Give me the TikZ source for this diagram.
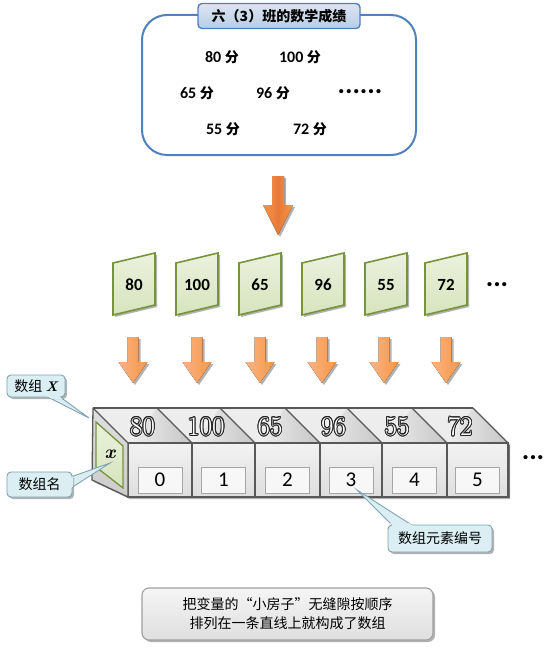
\documentclass[tikz,border=0pt]{standalone}
\usepackage{fontspec}
\setmainfont{Carlito}
\newfontfamily\cjk{Noto Sans CJK SC}
\newfontfamily\lmr{Latin Modern Roman}
\usepackage[copies]{contour}
\contourlength{0.9pt}
\usetikzlibrary{shadows,calc}
\definecolor{bluel}{HTML}{4F81BD}
\definecolor{tabtop}{HTML}{DCE6F2}
\definecolor{tabbot}{HTML}{B9CDE5}
\definecolor{orA}{HTML}{F79646}
\definecolor{orB}{HTML}{E6793A}
\definecolor{orL}{HTML}{FAB384}
\definecolor{grnF}{HTML}{EBF1DE}
\definecolor{grnG}{HTML}{D7E4BD}
\definecolor{grnL}{HTML}{77933C}
\definecolor{calfill}{HTML}{DAEEF3}
\definecolor{calline}{HTML}{7FA3AD}
\definecolor{edge}{HTML}{585858}
\tikzset{
  shad/.style={drop shadow={shadow xshift=2pt,shadow yshift=-2pt,opacity=.3,fill=black}},
  cardbox/.style={draw=grnL,line width=1.6pt,top color=grnF,bottom color=grnG,shad},
  bigarrow/.style={left color=orA,right color=orA,middle color=orB,shad},
  smallarrow/.style={left color=orL,right color=orA,shad},
  callout/.style={draw=calline,line width=0.9pt,fill=calfill,rounded corners=4pt,
     inner sep=2pt,font=\cjk\fontsize{14}{16}\selectfont},
  idxbox/.style={draw=gray!70,line width=0.8pt,fill=gray!6,minimum width=44pt,minimum height=26pt,
     inner sep=0pt,font=\fontsize{21}{22}\selectfont},
  score/.style={font=\bfseries\fontsize{16}{16}\selectfont,inner sep=0pt},
  cardtxt/.style={font=\bfseries\fontsize{17}{18}\selectfont,inner sep=0pt},
  topnum/.style={font=\lmr\fontsize{27}{28}\selectfont,inner sep=0pt},
  dots/.style={font=\bfseries\fontsize{28}{28}\selectfont,inner sep=0pt}
}
\newcommand{\fen}{{\cjk\bfseries\fontsize{14}{16}\selectfont 分}}
\begin{document}
\begin{tikzpicture}[x=1pt,y=-1pt]
\useasboundingbox (0,0) rectangle (550,650);
% ---------- top box ----------
\node[draw=bluel,line width=2pt,rounded corners=25pt,fill=white,minimum width=274pt,minimum height=140pt] (scores) at (279,85) {};
\node[draw=bluel,line width=1.4pt,rounded corners=4pt,top color=tabtop,bottom color=tabbot,
  minimum width=162pt,minimum height=25pt,inner sep=0pt,font=\cjk\bfseries\fontsize{14}{16}\selectfont] (title) at (279,16) {六（3）班的数学成绩};
\node[score] (s80) at (222,57) {80 \fen};
\node[score] (s100) at (300,57) {100 \fen};
\node[score] (s65) at (197,93) {65 \fen};
\node[score] (s96) at (273,93) {96 \fen};
\node[dots] (sdots) at (360,92) {......};
\node[score] (s55) at (223,129) {55 \fen};
\node[score] (s72) at (310,129) {72 \fen};
% ---------- big arrow ----------
\fill[bigarrow] (272,176)--(284,176)--(284,205)--(293,205)--(278,235)--(263,205)--(272,205)--cycle;
% ---------- cards ----------
\foreach \L/\v [count=\i] in {113/80,176/100,239/65,302/96,365/55,425/72}{
  \path[cardbox] (\L,263)--(\L+42,253)--(\L+42,305)--(\L,315)--cycle;
  \node[cardtxt] (card\i) at (\L+21,285) {\v};
}
\node[dots] (cdots) at (497,285) {...};
% ---------- small arrows ----------
\foreach \c in {133,197,260,322,384,446}{
  \fill[smallarrow] (\c-5.5,337)--(\c+5.5,337)--(\c+5.5,362)--(\c+14.5,362)--(\c,383)--(\c-14.5,362)--(\c-5.5,362)--cycle;
}
% ---------- 3D array ----------
\fill[gray!20,shad] (93,408)--(473,408)--(508,443)--(508,497)--(128,497)--(92,480)--cycle;
\fill[gray!14] (93,408)--(473,408)--(508,443)--(128,443)--cycle;
\foreach \fa/\fb in {128/192,192/255,255/320,320/382,382/447,447/508}{
  \shade[left color=gray!14,right color=gray!45] (\fb-35-25,443)--(\fb-35,408)--(\fb,443)--cycle;
}
\foreach \fb in {192,255,320,382,447,508}{
  \draw[edge,line width=1.1pt] (\fb-35,408)--(\fb,443);
}
\draw[edge,line width=1.2pt] (93,408)--(473,408);
\foreach \fa/\fb/\k/\v in {128/192/0/80,192/255/1/100,255/320/2/65,320/382/3/96,382/447/4/55,447/508/5/72}{
  \shade[top color=gray!10,bottom color=gray!26] (\fa,443) rectangle (\fb,497);
  \draw[edge,line width=1.3pt] (\fa,443) rectangle (\fb,497);
  \draw[black!55,line width=1.2pt] (\fb+1.3,445)--(\fb+1.3,498);
  \node[idxbox] (idx\k) at ({(\fa+\fb)/2},480) {\k};
  \node[topnum] (top\k) at ({(\fa+\fb-35)/2},427) {\contour{black!85}{\textcolor{white}{\v}}};
}
% end face
\shade[top color=gray!25,bottom color=gray!40,draw=edge,line width=1.3pt,line join=round]
  (93,408)--(128,443)--(128,497)--(92,480)--cycle;
\shade[top color=grnF,bottom color=grnG,draw=grnL,line width=1.3pt]
  (96,422)--(123,446)--(123,488)--(96,467)--cycle;
\node[font=\lmr\bfseries\itshape\fontsize{19}{20}\selectfont,inner sep=0pt] (xname) at (110,454) {x};
\node[dots] (adots) at (533,458) {...};
% ---------- callouts ----------
\coordinate (tipX) at (89,418);
\coordinate (tipN) at (110,463);
\coordinate (tipE) at (357,490);
\fill[calfill,draw=calline,line width=0.9pt] (42,394)--(56,394)--(tipX)--cycle;
\node[callout,shad,minimum width=58pt,minimum height=22pt] (cX) at (36,386) {数组 {\lmr\bfseries\itshape X}};
\begin{scope}\clip ($(cX.south west)+(-1pt,-1pt)$) rectangle ($(cX.north east)+(1pt,1pt)$);
\fill[calfill] (42,394)--(56,394)--(tipX)--cycle;\end{scope}

\fill[calfill,draw=calline,line width=0.9pt] (68,478)--(68,490)--(tipN)--cycle;
\node[callout,shad,minimum width=65pt,minimum height=25pt] (cN) at (39.5,484.5) {数组名};
\begin{scope}\clip ($(cN.south west)+(-1pt,-1pt)$) rectangle ($(cN.north east)+(1pt,1pt)$);
\fill[calfill] (68,478)--(68,490)--(tipN)--cycle;\end{scope}

\fill[calfill,draw=calline,line width=0.9pt] (396,529)--(418,529)--(tipE)--cycle;
\node[callout,shad,minimum width=104pt,minimum height=27pt] (cE) at (440,538.5) {数组元素编号};
\begin{scope}\clip ($(cE.south west)+(-1pt,-1pt)$) rectangle ($(cE.north east)+(1pt,1pt)$);
\fill[calfill] (396,529)--(418,529)--(tipE)--cycle;\end{scope}
% ---------- note ----------
\node[draw=gray!75,line width=1.1pt,rounded corners=7pt,top color=gray!8,bottom color=gray!25,shad,
  minimum width=291pt,minimum height=52pt,align=center,font=\cjk\fontsize{14}{19}\selectfont] (note) at (287.5,614)
  {把变量的“小房子”无缝隙按顺序\\排列在一条直线上就构成了数组};
\end{tikzpicture}
\end{document}
